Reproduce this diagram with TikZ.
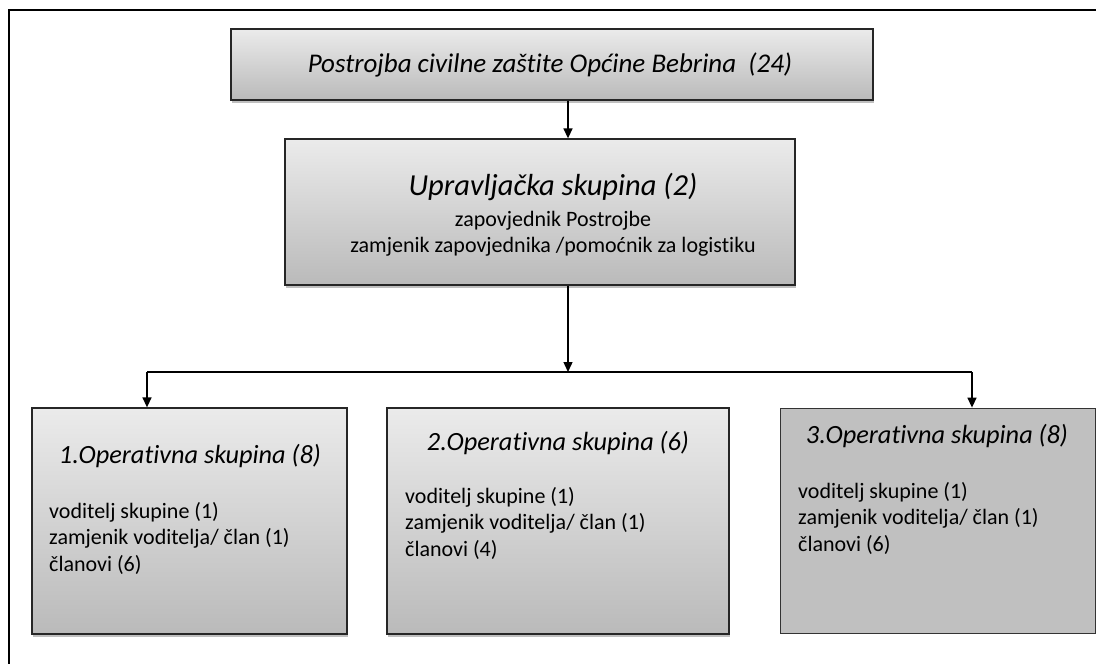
\documentclass[tikz,border=0pt]{standalone}
\usepackage{fontspec}
\setmainfont{Carlito}[Ligatures=NoCommon]
\usepackage{xcolor}
\usetikzlibrary{arrows.meta,shadows}

\definecolor{boxtop}{HTML}{EBEBEB}
\definecolor{boxbot}{HTML}{BABABA}
\definecolor{boxflat}{HTML}{C0C0C0}

\tikzset{
  unitbox/.style={draw=black!85, line width=1.3pt, inner sep=0pt,
    top color=boxtop, bottom color=boxbot,
    drop shadow={shadow xshift=1pt, shadow yshift=-3pt, fill=black, opacity=.25}},
  flatbox/.style={draw=black!80, line width=.8pt, inner sep=0pt, fill=boxflat},
  bigtitle/.style={font=\fontsize{30.5}{34}\selectfont\itshape, inner sep=0pt},
  grptitle/.style={font=\fontsize{26.3}{31}\selectfont\itshape, inner sep=0pt},
  members/.style={font=\fontsize{22}{26.5}\selectfont, align=left, inner sep=0pt},
  conn/.style={line width=1.4pt, -{Triangle[length=10pt,width=9pt]}},
}

\begin{document}
\begin{tikzpicture}[x=1pt, y=-1pt]
\useasboundingbox (0,0) rectangle (1096,664);

% frame
\draw[line width=1.6pt] (9,664) -- (9,10) -- (1096,10);

% boxes
\node[unitbox, minimum width=642pt, minimum height=71pt] (top) at (552,64.5) {};
\node[unitbox, minimum width=510pt, minimum height=146pt] (upr) at (540,212) {};
\node[unitbox, minimum width=315pt, minimum height=226pt] (g1) at (189.5,521) {};
\node[unitbox, minimum width=342pt, minimum height=226pt] (g2) at (558,521) {};
\node[flatbox, minimum width=315pt, minimum height=225pt] (g3) at (937.5,520.5) {};

% texts (base of a multi-line node = its last line)
\node[grptitle, font=\fontsize{27}{31}\selectfont\itshape] (toptxt) at (550,64.5) {Postrojba civilne zaštite Općine Bebrina\ \ (24)};
\node[bigtitle, anchor=base] (uprtxt) at (553,195) {Upravljačka skupina (2)};
\node[members, font=\fontsize{22}{26}\selectfont, align=center, anchor=base] (uprsub) at (553,252) {zapovjednik Postrojbe\\zamjenik zapovjednika /pomoćnik za logistiku};

\node[grptitle, anchor=base] (g1txt) at (190,463) {1.Operativna skupina (8)};
\node[members, anchor=base west] (g1list) at (49,571) {voditelj skupine (1)\\zamjenik voditelja/ član (1)\\članovi (6)};
\node[grptitle, anchor=base] (g2txt) at (558,450) {2.Operativna skupina (6)};
\node[members, anchor=base west] (g2list) at (405,556) {voditelj skupine (1)\\zamjenik voditelja/ član (1)\\članovi (4)};
\node[grptitle, anchor=base] (g3txt) at (937,443) {3.Operativna skupina (8)};
\node[members, anchor=base west] (g3list) at (798,551) {voditelj skupine (1)\\zamjenik voditelja/ član (1)\\članovi (6)};

% connectors
\coordinate (split) at (568,372);
\coordinate (lft) at (147,372);
\coordinate (rgt) at (972,372);
\draw[conn] (top.south -| split) -- (upr.north -| split);
\draw[conn] (upr.south -| split) -- (split);
\draw[line width=1.4pt] (lft) -- (rgt);
\draw[conn] (lft) -- (lft |- g1.north);
\draw[conn] (rgt) -- (rgt |- g3.north);

\end{tikzpicture}
\end{document}
